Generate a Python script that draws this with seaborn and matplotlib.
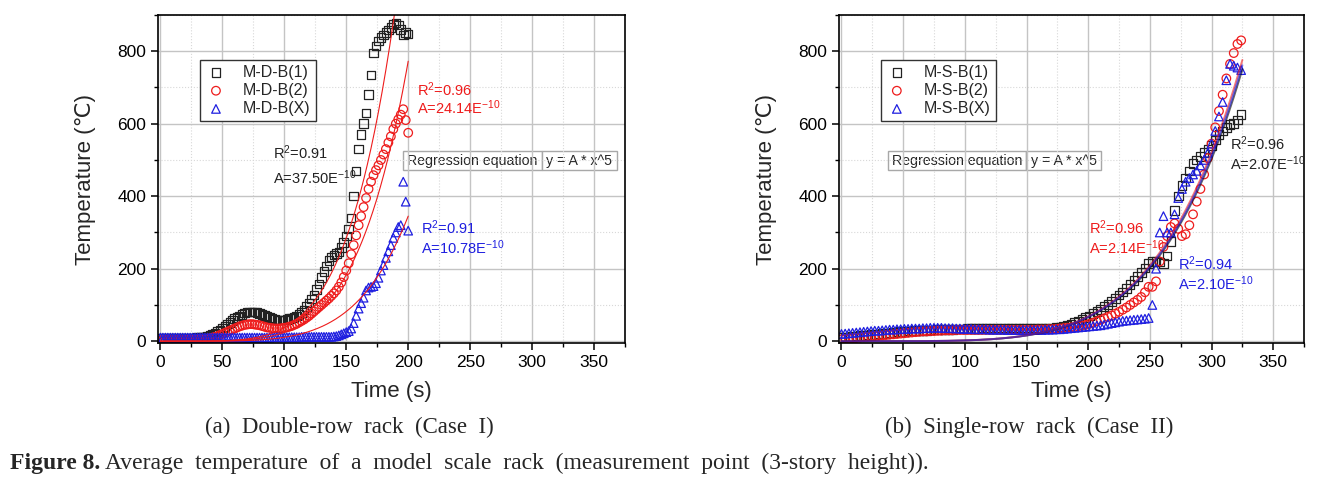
import numpy as np
import matplotlib
matplotlib.use("Agg")
import matplotlib.pyplot as plt
from matplotlib.ticker import MultipleLocator
import seaborn as sns

sns.set_style("white")
plt.rcParams['font.family'] = ['Liberation Sans', 'DejaVu Sans']
plt.rcParams['mathtext.fontset'] = 'custom'
plt.rcParams['mathtext.rm'] = 'Liberation Sans'
plt.rcParams['mathtext.it'] = 'Liberation Sans:italic'

# ---- (a) double-row rack, samples every 2 s from 0 to 200 s ----
t_left = np.arange(0, 201, 2)
mdb1 = [8, 8, 8, 8, 8, 8, 8, 8, 8, 8, 9, 9, 9, 9, 9, 10, 10, 11, 12, 13,
        15, 18, 22, 26, 31, 36, 41, 47, 52, 57,
        62, 66, 70, 74, 78, 80, 81, 81, 80, 79,
        77, 74, 71, 68, 65, 62, 60, 59, 58, 58,
        59, 60, 62, 64, 66, 69, 73, 79, 86, 95,
        105, 116, 128, 142, 158, 175, 192, 208, 222, 232,
        238, 242, 246, 258, 272, 290, 310, 340, 400, 470,
        530, 570, 600, 630, 680, 735, 795, 815, 828, 838,
        845, 852, 858, 866, 875, 878, 872, 860, 845, 852, 848]
mdb2 = [3, 3, 3, 3, 3, 3, 3, 3, 3, 3, 4, 4, 4, 4, 4, 5, 5, 5, 6, 7,
        8, 10, 12, 14, 17, 20, 23, 26, 29, 32,
        35, 38, 41, 43, 45, 46, 47, 47, 46, 45,
        44, 42, 40, 38, 37, 36, 35, 35, 35, 36,
        37, 38, 40, 42, 45, 48, 52, 56, 60, 65,
        70, 76, 82, 88, 94, 100, 106, 112, 118, 125,
        132, 140, 150, 162, 177, 195, 215, 240, 265, 292,
        320, 345, 370, 395, 420, 440, 458, 472, 485, 500,
        515, 530, 548, 565, 585, 600, 612, 625, 640, 610, 575]
mdbx = [10, 10, 10, 10, 10, 10, 10, 10, 10, 10, 10, 10, 10, 10, 10, 10, 10, 10, 10, 10,
        10, 10, 10, 10, 10, 10, 10, 10, 10, 10,
        10, 10, 10, 10, 10, 10, 10, 10, 10, 10,
        10, 10, 10, 10, 10, 11, 11, 11, 11, 11,
        11, 11, 11, 11, 11, 11, 11, 12, 12, 12,
        12, 12, 12, 12, 12, 12, 12, 12, 12, 12,
        13, 14, 16, 19, 22, 25, 28, 35, 50, 70,
        90, 105, 120, 140, 148, 150, 152, 160, 175, 195,
        210, 230, 248, 265, 285, 300, 315, 320, 440, 385, 305]

# ---- (b) single-row rack, samples every 3 s from 0 to 324 s ----
t_right = np.arange(0, 325, 3)
msb1 = [10, 11, 12, 13, 14, 15, 16, 17, 18, 19,
        20, 21, 22, 23, 24, 25, 26, 27, 28, 28,
        29, 29, 30, 30, 31, 31, 32, 32, 33, 33,
        33, 34, 34, 34, 35, 35, 35, 35, 36, 36,
        36, 36, 36, 36, 36, 36, 36, 36, 36, 36,
        36, 36, 36, 36, 36, 37, 37, 37, 38, 39,
        41, 44, 47, 51, 55, 60, 65, 70, 76, 82,
        88, 95, 102, 110, 118, 127, 136, 146, 156, 167,
        178, 190, 202, 214, 220, 220, 218, 215, 235, 275,
        360, 400, 430, 450, 470, 490, 500, 510, 520, 530,
        540, 555, 570, 580, 590, 598, 600, 610, 625]
msb2 = [5, 6, 7, 8, 9, 10, 11, 12, 13, 14,
        15, 16, 17, 18, 19, 20, 21, 22, 23, 24,
        25, 26, 27, 27, 28, 28, 29, 29, 30, 30,
        30, 31, 31, 31, 31, 31, 31, 31, 31, 31,
        31, 31, 31, 31, 31, 31, 31, 31, 31, 31,
        31, 31, 31, 32, 32, 32, 33, 33, 34, 35,
        36, 37, 38, 39, 41, 43, 45, 48, 51, 55,
        59, 63, 67, 71, 76, 81, 87, 93, 100, 107,
        114, 122, 135, 150, 150, 165, 220, 260, 290, 315,
        325, 310, 290, 295, 320, 350, 385, 420, 460, 505,
        545, 590, 635, 680, 725, 765, 795, 820, 830]
msbx = [20, 21, 22, 23, 24, 25, 26, 27, 28, 29,
        29, 30, 31, 32, 32, 33, 33, 34, 34, 35,
        35, 35, 36, 36, 37, 37, 37, 37, 36, 36,
        36, 35, 35, 34, 34, 34, 33, 33, 33, 33,
        32, 32, 32, 32, 32, 31, 31, 31, 31, 31,
        31, 31, 31, 31, 31, 32, 32, 32, 33, 33,
        34, 35, 36, 37, 38, 39, 40, 41, 42, 43,
        44, 46, 48, 50, 52, 54, 56, 57, 58, 59,
        60, 61, 62, 64, 100, 200, 300, 345, 300, 300,
        350, 395, 420, 440, 450, 460, 470, 485, 500, 520,
        545, 580, 620, 660, 720, 765, 760, 755, 748]

# regression y = A * x^5
A_left = [37.50e-10, 24.14e-10, 10.78e-10]
A_right = [2.07e-10, 2.14e-10, 2.10e-10]
R2_left = ['0.91', '0.96', '0.91']
R2_right = ['0.96', '0.96', '0.94']

BLACK = '#222222'
RED = '#ee1c1c'
BLUE = '#1f1fe0'
colors = [BLACK, RED, BLUE]
markers = ['s', 'o', '^']

fig = plt.figure(figsize=(13.25, 4.79), dpi=100)
ax1 = fig.add_axes([0.1192, 0.2839, 0.3525, 0.6848])
ax2 = fig.add_axes([0.6332, 0.2839, 0.351, 0.6848])


def style(ax):
    ax.set_xlim(-2, 375)
    ax.set_ylim(-5, 900)
    ax.set_xticks(range(0, 351, 50))
    ax.set_yticks(range(0, 801, 200))
    ax.xaxis.set_minor_locator(MultipleLocator(25))
    ax.yaxis.set_minor_locator(MultipleLocator(100))
    ax.grid(which='major', color='#c4c4c4', lw=1.0, ls='-')
    ax.grid(which='minor', color='#d8d8d8', lw=0.8, ls=':')
    ax.set_axisbelow(True)
    ax.tick_params(which='both', direction='out', top=False, right=False,
                   bottom=True, left=True, labelsize=12.5, colors='k')
    ax.tick_params(which='major', length=5, width=1.1)
    ax.tick_params(which='minor', length=3, width=1.0)
    for s in ax.spines.values():
        s.set_color('k')
        s.set_linewidth(1.2)
    ax.set_xlabel('Time (s)', fontsize=16, labelpad=8)
    ax.set_ylabel('Temperature (℃)', fontsize=16, labelpad=15)


def scatter(ax, t, v, name, col, mk):
    sns.scatterplot(x=t, y=v, ax=ax, marker=mk, s=38, color=col, label=name)
    coll = ax.collections[-1]
    coll.set_facecolor('none')
    coll.set_edgecolor(col)
    coll.set_linewidth(0.9)


def reg_box(ax, x0, y0):
    tb = ax.table(cellText=[['Regression equation', 'y = A * x^5']],
                  colWidths=[0.65, 0.35], cellLoc='center',
                  bbox=[x0, y0, 0.458, 0.058])
    tb.auto_set_font_size(False)
    tb.set_fontsize(10.2)
    for c in tb.get_celld().values():
        c.set_edgecolor('#a8a8a8')
        c.set_linewidth(1.0)
        c.set_facecolor('white')


def note(ax, x, y1, y2, r2, a, col):
    ax.text(x, y1, 'R$^{2}$=' + r2, color=col, fontsize=10.5, va='center')
    ax.text(x, y2, 'A=' + a + 'E$^{-10}$', color=col, fontsize=10.5, va='center')


# (a)
for v, name, col, mk in zip([mdb1, mdb2, mdbx], ['M-D-B(1)', 'M-D-B(2)', 'M-D-B(X)'],
                            colors, markers):
    scatter(ax1, t_left, v, name, col, mk)
tt = np.linspace(0, 200, 401)
for A in A_left:
    sns.lineplot(x=tt, y=A * tt ** 5, ax=ax1, color=RED, lw=0.8)
style(ax1)
note(ax1, 91, 519, 452, R2_left[0], '37.50', BLACK)
note(ax1, 207, 695, 643, R2_left[1], '24.14', RED)
note(ax1, 210, 312, 259, R2_left[2], '10.78', BLUE)
reg_box(ax1, 0.5246, 0.5274)

# (b)
for v, name, col, mk in zip([msb1, msb2, msbx], ['M-S-B(1)', 'M-S-B(2)', 'M-S-B(X)'],
                            colors, markers):
    scatter(ax2, t_right, v, name, col, mk)
tt2 = np.linspace(0, 325, 651)
for A, col in zip(A_right, ['k', RED, BLUE]):
    sns.lineplot(x=tt2, y=A * tt2 ** 5, ax=ax2, color=col, lw=1.4, alpha=0.6)
style(ax2)
note(ax2, 315, 546, 491, R2_right[0], '2.07', BLACK)
note(ax2, 201, 314, 259, R2_right[1], '2.14', RED)
note(ax2, 273, 215, 160, R2_right[2], '2.10', BLUE)
reg_box(ax2, 0.1054, 0.5274)

for ax in (ax1, ax2):
    ax.legend(loc='upper left', bbox_to_anchor=(0.09, 0.863), frameon=True,
              fancybox=False, edgecolor='#333333', framealpha=1, fontsize=11.5,
              handletextpad=1.0, borderpad=0.3, labelspacing=0.2,
              handlelength=1.4, borderaxespad=0)

serif = ['Liberation Serif', 'DejaVu Serif']
fig.text(0.264, 0.1086, '(a)  Double-row  rack  (Case  I)', family=serif,
         fontsize=16.5, ha='center', va='center')
fig.text(0.777, 0.1086, '(b)  Single-row  rack  (Case  II)', family=serif,
         fontsize=16.5, ha='center', va='center')
lab = fig.text(0.0075, 0.0334, 'Figure 8.', family=serif, fontsize=17,
               fontweight='bold', ha='left', va='center')
fig.canvas.draw()
bb = lab.get_window_extent(fig.canvas.get_renderer())
fig.text(bb.x1 / fig.bbox.width + 0.004, 0.0334,
         'Average  temperature  of  a  model  scale  rack  (measurement  point  (3-story  height)).',
         family=serif, fontsize=17, ha='left', va='center')

fig.savefig('out.png', dpi=100)
